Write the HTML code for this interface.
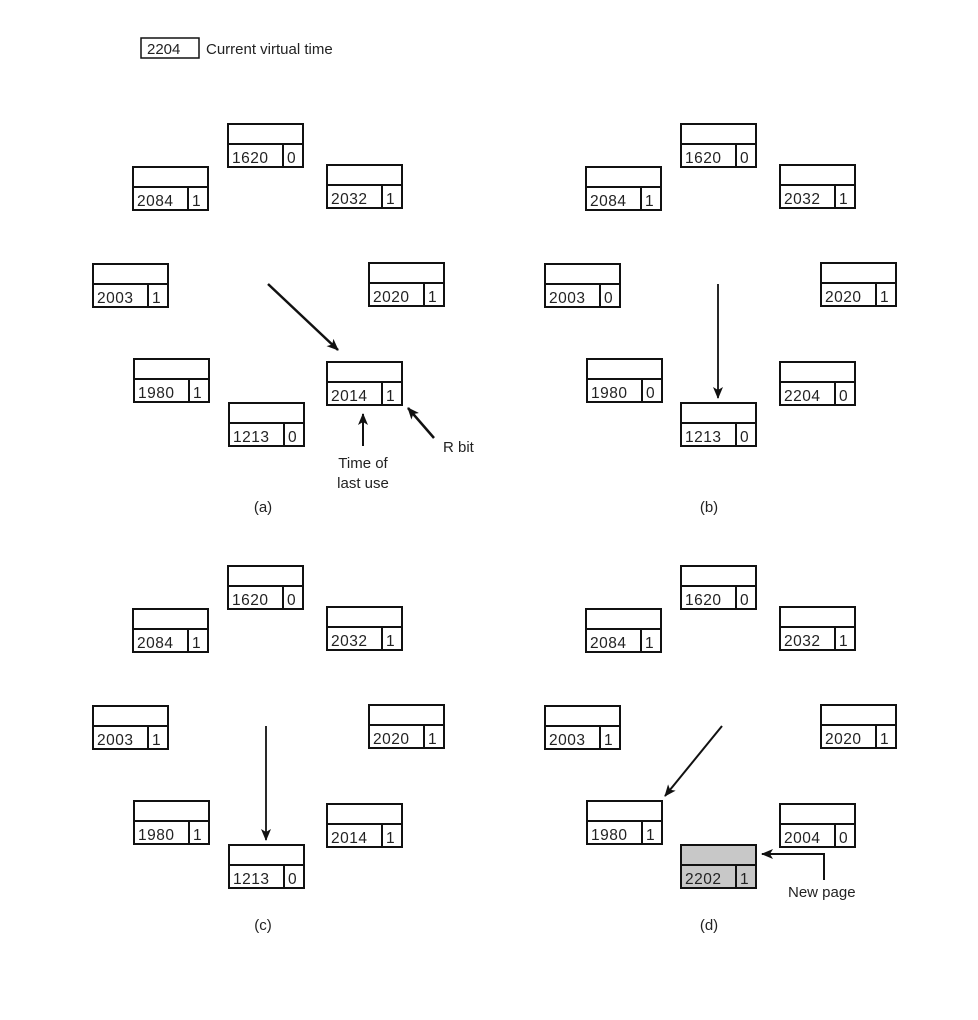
<!DOCTYPE html>
<html><head><meta charset="utf-8"><style>
html,body{margin:0;padding:0;background:#fff;}
svg{display:block;}
text{font-family:"Liberation Sans",sans-serif;font-size:15px;fill:#222;}
.n rect,.n line{stroke:#111;stroke-width:2;fill:none;}
.n text{font-size:15.5px;letter-spacing:0.5px;}
</style></head><body>
<svg width="978" height="1020" viewBox="0 0 978 1020" xmlns="http://www.w3.org/2000/svg">
<defs>
<marker id="ah" markerWidth="12" markerHeight="10" refX="11" refY="5" orient="auto" markerUnits="userSpaceOnUse">
<path d="M0,0 L12,5 L0,10 L3,5 Z" fill="#111"/>
</marker>
</defs>
<rect x="141" y="38" width="58" height="20" fill="none" stroke="#111" stroke-width="1.5"/>
<text x="147" y="54">2204</text>
<text x="206" y="54">Current virtual time</text>

<!-- Panel a -->
<g class="n" transform="translate(228,124)"><rect x="0" y="0" width="75" height="43"/><line x1="0" y1="20" x2="75" y2="20"/><line x1="55" y1="20" x2="55" y2="43"/><text x="4" y="39">1620</text><text x="59" y="39">0</text></g>
<g class="n" transform="translate(133,167)"><rect x="0" y="0" width="75" height="43"/><line x1="0" y1="20" x2="75" y2="20"/><line x1="55" y1="20" x2="55" y2="43"/><text x="4" y="39">2084</text><text x="59" y="39">1</text></g>
<g class="n" transform="translate(327,165)"><rect x="0" y="0" width="75" height="43"/><line x1="0" y1="20" x2="75" y2="20"/><line x1="55" y1="20" x2="55" y2="43"/><text x="4" y="39">2032</text><text x="59" y="39">1</text></g>
<g class="n" transform="translate(93,264)"><rect x="0" y="0" width="75" height="43"/><line x1="0" y1="20" x2="75" y2="20"/><line x1="55" y1="20" x2="55" y2="43"/><text x="4" y="39">2003</text><text x="59" y="39">1</text></g>
<g class="n" transform="translate(369,263)"><rect x="0" y="0" width="75" height="43"/><line x1="0" y1="20" x2="75" y2="20"/><line x1="55" y1="20" x2="55" y2="43"/><text x="4" y="39">2020</text><text x="59" y="39">1</text></g>
<g class="n" transform="translate(134,359)"><rect x="0" y="0" width="75" height="43"/><line x1="0" y1="20" x2="75" y2="20"/><line x1="55" y1="20" x2="55" y2="43"/><text x="4" y="39">1980</text><text x="59" y="39">1</text></g>
<g class="n" transform="translate(327,362)"><rect x="0" y="0" width="75" height="43"/><line x1="0" y1="20" x2="75" y2="20"/><line x1="55" y1="20" x2="55" y2="43"/><text x="4" y="39">2014</text><text x="59" y="39">1</text></g>
<g class="n" transform="translate(229,403)"><rect x="0" y="0" width="75" height="43"/><line x1="0" y1="20" x2="75" y2="20"/><line x1="55" y1="20" x2="55" y2="43"/><text x="4" y="39">1213</text><text x="59" y="39">0</text></g>
<line x1="268" y1="284" x2="338" y2="350" stroke="#111" stroke-width="2.5" marker-end="url(#ah)"/>
<line x1="363" y1="446" x2="363" y2="414" stroke="#111" stroke-width="2" marker-end="url(#ah)"/>
<line x1="434" y1="438" x2="408" y2="408" stroke="#111" stroke-width="2.5" marker-end="url(#ah)"/>
<text x="363" y="468" text-anchor="middle">Time of</text>
<text x="363" y="488" text-anchor="middle">last use</text>
<text x="443" y="452">R bit</text>
<text x="263" y="512" text-anchor="middle">(a)</text>

<!-- Panel b -->
<g class="n" transform="translate(681,124)"><rect x="0" y="0" width="75" height="43"/><line x1="0" y1="20" x2="75" y2="20"/><line x1="55" y1="20" x2="55" y2="43"/><text x="4" y="39">1620</text><text x="59" y="39">0</text></g>
<g class="n" transform="translate(586,167)"><rect x="0" y="0" width="75" height="43"/><line x1="0" y1="20" x2="75" y2="20"/><line x1="55" y1="20" x2="55" y2="43"/><text x="4" y="39">2084</text><text x="59" y="39">1</text></g>
<g class="n" transform="translate(780,165)"><rect x="0" y="0" width="75" height="43"/><line x1="0" y1="20" x2="75" y2="20"/><line x1="55" y1="20" x2="55" y2="43"/><text x="4" y="39">2032</text><text x="59" y="39">1</text></g>
<g class="n" transform="translate(545,264)"><rect x="0" y="0" width="75" height="43"/><line x1="0" y1="20" x2="75" y2="20"/><line x1="55" y1="20" x2="55" y2="43"/><text x="4" y="39">2003</text><text x="59" y="39">0</text></g>
<g class="n" transform="translate(821,263)"><rect x="0" y="0" width="75" height="43"/><line x1="0" y1="20" x2="75" y2="20"/><line x1="55" y1="20" x2="55" y2="43"/><text x="4" y="39">2020</text><text x="59" y="39">1</text></g>
<g class="n" transform="translate(587,359)"><rect x="0" y="0" width="75" height="43"/><line x1="0" y1="20" x2="75" y2="20"/><line x1="55" y1="20" x2="55" y2="43"/><text x="4" y="39">1980</text><text x="59" y="39">0</text></g>
<g class="n" transform="translate(780,362)"><rect x="0" y="0" width="75" height="43"/><line x1="0" y1="20" x2="75" y2="20"/><line x1="55" y1="20" x2="55" y2="43"/><text x="4" y="39">2204</text><text x="59" y="39">0</text></g>
<g class="n" transform="translate(681,403)"><rect x="0" y="0" width="75" height="43"/><line x1="0" y1="20" x2="75" y2="20"/><line x1="55" y1="20" x2="55" y2="43"/><text x="4" y="39">1213</text><text x="59" y="39">0</text></g>
<line x1="718" y1="284" x2="718" y2="398" stroke="#111" stroke-width="1.8" marker-end="url(#ah)"/>
<text x="709" y="512" text-anchor="middle">(b)</text>

<!-- Panel c -->
<g class="n" transform="translate(228,566)"><rect x="0" y="0" width="75" height="43"/><line x1="0" y1="20" x2="75" y2="20"/><line x1="55" y1="20" x2="55" y2="43"/><text x="4" y="39">1620</text><text x="59" y="39">0</text></g>
<g class="n" transform="translate(133,609)"><rect x="0" y="0" width="75" height="43"/><line x1="0" y1="20" x2="75" y2="20"/><line x1="55" y1="20" x2="55" y2="43"/><text x="4" y="39">2084</text><text x="59" y="39">1</text></g>
<g class="n" transform="translate(327,607)"><rect x="0" y="0" width="75" height="43"/><line x1="0" y1="20" x2="75" y2="20"/><line x1="55" y1="20" x2="55" y2="43"/><text x="4" y="39">2032</text><text x="59" y="39">1</text></g>
<g class="n" transform="translate(93,706)"><rect x="0" y="0" width="75" height="43"/><line x1="0" y1="20" x2="75" y2="20"/><line x1="55" y1="20" x2="55" y2="43"/><text x="4" y="39">2003</text><text x="59" y="39">1</text></g>
<g class="n" transform="translate(369,705)"><rect x="0" y="0" width="75" height="43"/><line x1="0" y1="20" x2="75" y2="20"/><line x1="55" y1="20" x2="55" y2="43"/><text x="4" y="39">2020</text><text x="59" y="39">1</text></g>
<g class="n" transform="translate(134,801)"><rect x="0" y="0" width="75" height="43"/><line x1="0" y1="20" x2="75" y2="20"/><line x1="55" y1="20" x2="55" y2="43"/><text x="4" y="39">1980</text><text x="59" y="39">1</text></g>
<g class="n" transform="translate(327,804)"><rect x="0" y="0" width="75" height="43"/><line x1="0" y1="20" x2="75" y2="20"/><line x1="55" y1="20" x2="55" y2="43"/><text x="4" y="39">2014</text><text x="59" y="39">1</text></g>
<g class="n" transform="translate(229,845)"><rect x="0" y="0" width="75" height="43"/><line x1="0" y1="20" x2="75" y2="20"/><line x1="55" y1="20" x2="55" y2="43"/><text x="4" y="39">1213</text><text x="59" y="39">0</text></g>
<line x1="266" y1="726" x2="266" y2="840" stroke="#111" stroke-width="1.8" marker-end="url(#ah)"/>
<text x="263" y="930" text-anchor="middle">(c)</text>

<!-- Panel d -->
<g class="n" transform="translate(681,566)"><rect x="0" y="0" width="75" height="43"/><line x1="0" y1="20" x2="75" y2="20"/><line x1="55" y1="20" x2="55" y2="43"/><text x="4" y="39">1620</text><text x="59" y="39">0</text></g>
<g class="n" transform="translate(586,609)"><rect x="0" y="0" width="75" height="43"/><line x1="0" y1="20" x2="75" y2="20"/><line x1="55" y1="20" x2="55" y2="43"/><text x="4" y="39">2084</text><text x="59" y="39">1</text></g>
<g class="n" transform="translate(780,607)"><rect x="0" y="0" width="75" height="43"/><line x1="0" y1="20" x2="75" y2="20"/><line x1="55" y1="20" x2="55" y2="43"/><text x="4" y="39">2032</text><text x="59" y="39">1</text></g>
<g class="n" transform="translate(545,706)"><rect x="0" y="0" width="75" height="43"/><line x1="0" y1="20" x2="75" y2="20"/><line x1="55" y1="20" x2="55" y2="43"/><text x="4" y="39">2003</text><text x="59" y="39">1</text></g>
<g class="n" transform="translate(821,705)"><rect x="0" y="0" width="75" height="43"/><line x1="0" y1="20" x2="75" y2="20"/><line x1="55" y1="20" x2="55" y2="43"/><text x="4" y="39">2020</text><text x="59" y="39">1</text></g>
<g class="n" transform="translate(587,801)"><rect x="0" y="0" width="75" height="43"/><line x1="0" y1="20" x2="75" y2="20"/><line x1="55" y1="20" x2="55" y2="43"/><text x="4" y="39">1980</text><text x="59" y="39">1</text></g>
<g class="n" transform="translate(780,804)"><rect x="0" y="0" width="75" height="43"/><line x1="0" y1="20" x2="75" y2="20"/><line x1="55" y1="20" x2="55" y2="43"/><text x="4" y="39">2004</text><text x="59" y="39">0</text></g>
<g class="n" transform="translate(681,845)"><rect x="0" y="0" width="75" height="43" style="fill:#c8c8c8"/><line x1="0" y1="20" x2="75" y2="20"/><line x1="55" y1="20" x2="55" y2="43"/><text x="4" y="39">2202</text><text x="59" y="39">1</text></g>
<line x1="722" y1="726" x2="665" y2="796" stroke="#111" stroke-width="2" marker-end="url(#ah)"/>
<polyline points="824,880 824,854 762,854" fill="none" stroke="#111" stroke-width="2" marker-end="url(#ah)"/>
<text x="788" y="897">New page</text>
<text x="709" y="930" text-anchor="middle">(d)</text>
</svg>
</body></html>
